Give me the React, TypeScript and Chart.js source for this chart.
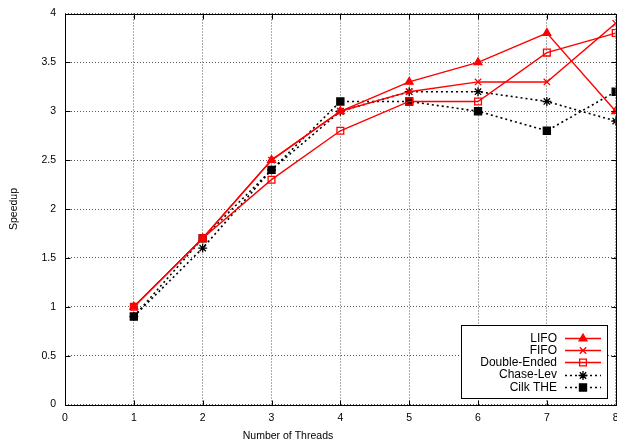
import React, { useEffect, useRef } from "react";
import { Chart, registerables } from "chart.js";
import { drawPoint } from "chart.js/helpers";

Chart.register(...registerables);

const threads = [1, 2, 3, 4, 5, 6, 7, 8];
const lifo = [1.0, 1.7, 2.5, 3.0, 3.3, 3.5, 3.8, 3.0];
const fifo = [1.0, 1.7, 2.5, 3.0, 3.2, 3.3, 3.3, 3.9];
const doubleEnded = [1.0, 1.7, 2.3, 2.8, 3.1, 3.1, 3.6, 3.8];
const chaseLev = [0.9, 1.6, 2.4, 3.0, 3.2, 3.2, 3.1, 2.9];
const cilkThe = [0.9, 1.7, 2.4, 3.1, 3.1, 3.0, 2.8, 3.2];
const seriesNames = ["LIFO", "FIFO", "Double-Ended", "Chase-Lev", "Cilk THE"];
const xTitle = "Number of Threads";
const yTitle = "Speedup";

const FONT = "'Liberation Sans', Arial, Helvetica, sans-serif";

const framePlugin = {
  id: "gnuplotFrame",
  afterDraw(chart: any) {
    const ctx = chart.ctx;
    const a = chart.chartArea;
    const xs = chart.scales.x;
    const ys = chart.scales.y;
    ctx.save();
    ctx.strokeStyle = "#000";
    ctx.lineWidth = 1;
    ctx.setLineDash([]);
    const L = Math.round(a.left) + 0.5;
    const R = Math.round(a.right) + 0.5;
    const T = Math.round(a.top) + 0.5;
    const B = Math.round(a.bottom) + 0.5;
    ctx.strokeRect(L, T, R - L, B - T);
    ctx.beginPath();
    for (let v = 0; v <= 8; v++) {
      const px = Math.round(xs.getPixelForValue(v)) + 0.5;
      ctx.moveTo(px, B);
      ctx.lineTo(px, B - 5);
      ctx.moveTo(px, T);
      ctx.lineTo(px, T + 5);
    }
    for (let v = 0; v <= 4.001; v += 0.5) {
      const py = Math.round(ys.getPixelForValue(v)) + 0.5;
      ctx.moveTo(L, py);
      ctx.lineTo(L + 5, py);
      ctx.moveTo(R, py);
      ctx.lineTo(R - 5, py);
    }
    ctx.stroke();

    // x axis title
    ctx.fillStyle = "#000";
    ctx.font = "10.5px " + FONT;
    ctx.textAlign = "center";
    ctx.textBaseline = "middle";
    ctx.fillText(xTitle, 288, 436);

    // legend
    const bx = 461.5, by = 325.5, bw = 146, bh = 73;
    ctx.fillStyle = "#fff";
    ctx.fillRect(bx, by, bw, bh);
    ctx.strokeStyle = "#000";
    ctx.strokeRect(bx, by, bw, bh);
    ctx.font = "12px " + FONT;
    ctx.textAlign = "right";
    chart.data.datasets.forEach((ds: any, i: number) => {
      const y = 338 + i * 12.2;
      ctx.fillStyle = "#000";
      ctx.fillText(ds.label, 557, y + 0.5);
      ctx.save();
      ctx.strokeStyle = ds.borderColor;
      ctx.lineWidth = ds.borderWidth;
      ctx.setLineDash(ds.borderDash || []);
      ctx.beginPath();
      ctx.moveTo(565, Math.round(y) + 0.5);
      ctx.lineTo(601, Math.round(y) + 0.5);
      ctx.stroke();
      ctx.setLineDash([]);
      ctx.strokeStyle = ds.pointBorderColor;
      ctx.fillStyle = ds.pointBackgroundColor;
      ctx.lineWidth = ds.pointBorderWidth;
      drawPoint(ctx, { pointStyle: ds.pointStyle, radius: ds.pointRadius, rotation: 0, borderWidth: ds.pointBorderWidth }, 583, Math.round(y) + 0.5);
      ctx.restore();
    });
    ctx.restore();
  },
};

function mk(label: string, vals: number[], color: string, style: string, fill: string, dash: number[] | undefined, radius: number) {
  return {
    label,
    data: threads.map((t, i) => ({ x: t, y: vals[i] })),
    borderColor: color,
    backgroundColor: fill,
    borderWidth: dash ? 1.6 : 1.4,
    borderDash: dash,
    pointStyle: style,
    pointRadius: radius,
    pointBorderColor: color,
    pointBackgroundColor: fill,
    pointBorderWidth: 1.3,
    tension: 0,
    fill: false,
  };
}

export default function App() {
  const ref = useRef<HTMLCanvasElement | null>(null);
  useEffect(() => {
    if (!ref.current) return;
    const red = "#ff0000";
    const chart = new Chart(ref.current, {
      type: "line",
      data: {
        datasets: [
          mk(seriesNames[0], lifo, red, "triangle", red, undefined, 4.5),
          mk(seriesNames[1], fifo, red, "crossRot", red, undefined, 4.5),
          mk(seriesNames[2], doubleEnded, red, "rect", "rgba(0,0,0,0)", undefined, 4.8),
          mk(seriesNames[3], chaseLev, "#000", "star", "#000", [2, 3], 4.5),
          mk(seriesNames[4], cilkThe, "#000", "rect", "#000", [2, 3], 5),
        ] as any,
      },
      options: {
        animation: false,
        responsive: true,
        maintainAspectRatio: false,
        layout: { padding: { left: 0, right: 2, top: 13.5, bottom: 0 } },
        plugins: { legend: { display: false }, tooltip: { enabled: false } },
        scales: {
          x: {
            type: "linear",
            min: 0,
            max: 8,
            ticks: {
              stepSize: 1,
              color: "#000",
              font: { family: FONT, size: 10.5 },
              padding: 7,
              maxRotation: 0,
              callback: (v: any) => String(v),
            },
            grid: { color: "rgba(0,0,0,0.65)", lineWidth: 1, drawTicks: false },
            border: { display: false, dash: [1, 2] },
            afterFit: (s: any) => {
              s.height = 40.5;
              s.paddingLeft = 0;
              s.paddingRight = 0;
            },
          } as any,
          y: {
            min: 0,
            max: 4,
            ticks: {
              stepSize: 0.5,
              color: "#000",
              font: { family: FONT, size: 10.5 },
              padding: 9,
              callback: (v: any) => String(v),
            },
            title: {
              display: true,
              text: yTitle,
              color: "#000",
              font: { family: FONT, size: 10.5 },
              padding: { top: 8, bottom: 0 },
            },
            grid: { color: "rgba(0,0,0,0.65)", lineWidth: 1, drawTicks: false },
            border: { display: false, dash: [1, 2] },
            afterFit: (s: any) => {
              s.width = 65;
              s.paddingTop = 0;
              s.paddingBottom = 0;
            },
          } as any,
        },
      },
      plugins: [framePlugin],
    });
    return () => chart.destroy();
  }, []);
  return (
    <div style={{ position: "absolute", left: 0, top: 0, width: 617, height: 445, overflow: "hidden", background: "#fff" }}>
      <div style={{ position: "absolute", left: 0, top: 0, width: 622, height: 445 }}>
        <canvas ref={ref} />
      </div>
    </div>
  );
}
